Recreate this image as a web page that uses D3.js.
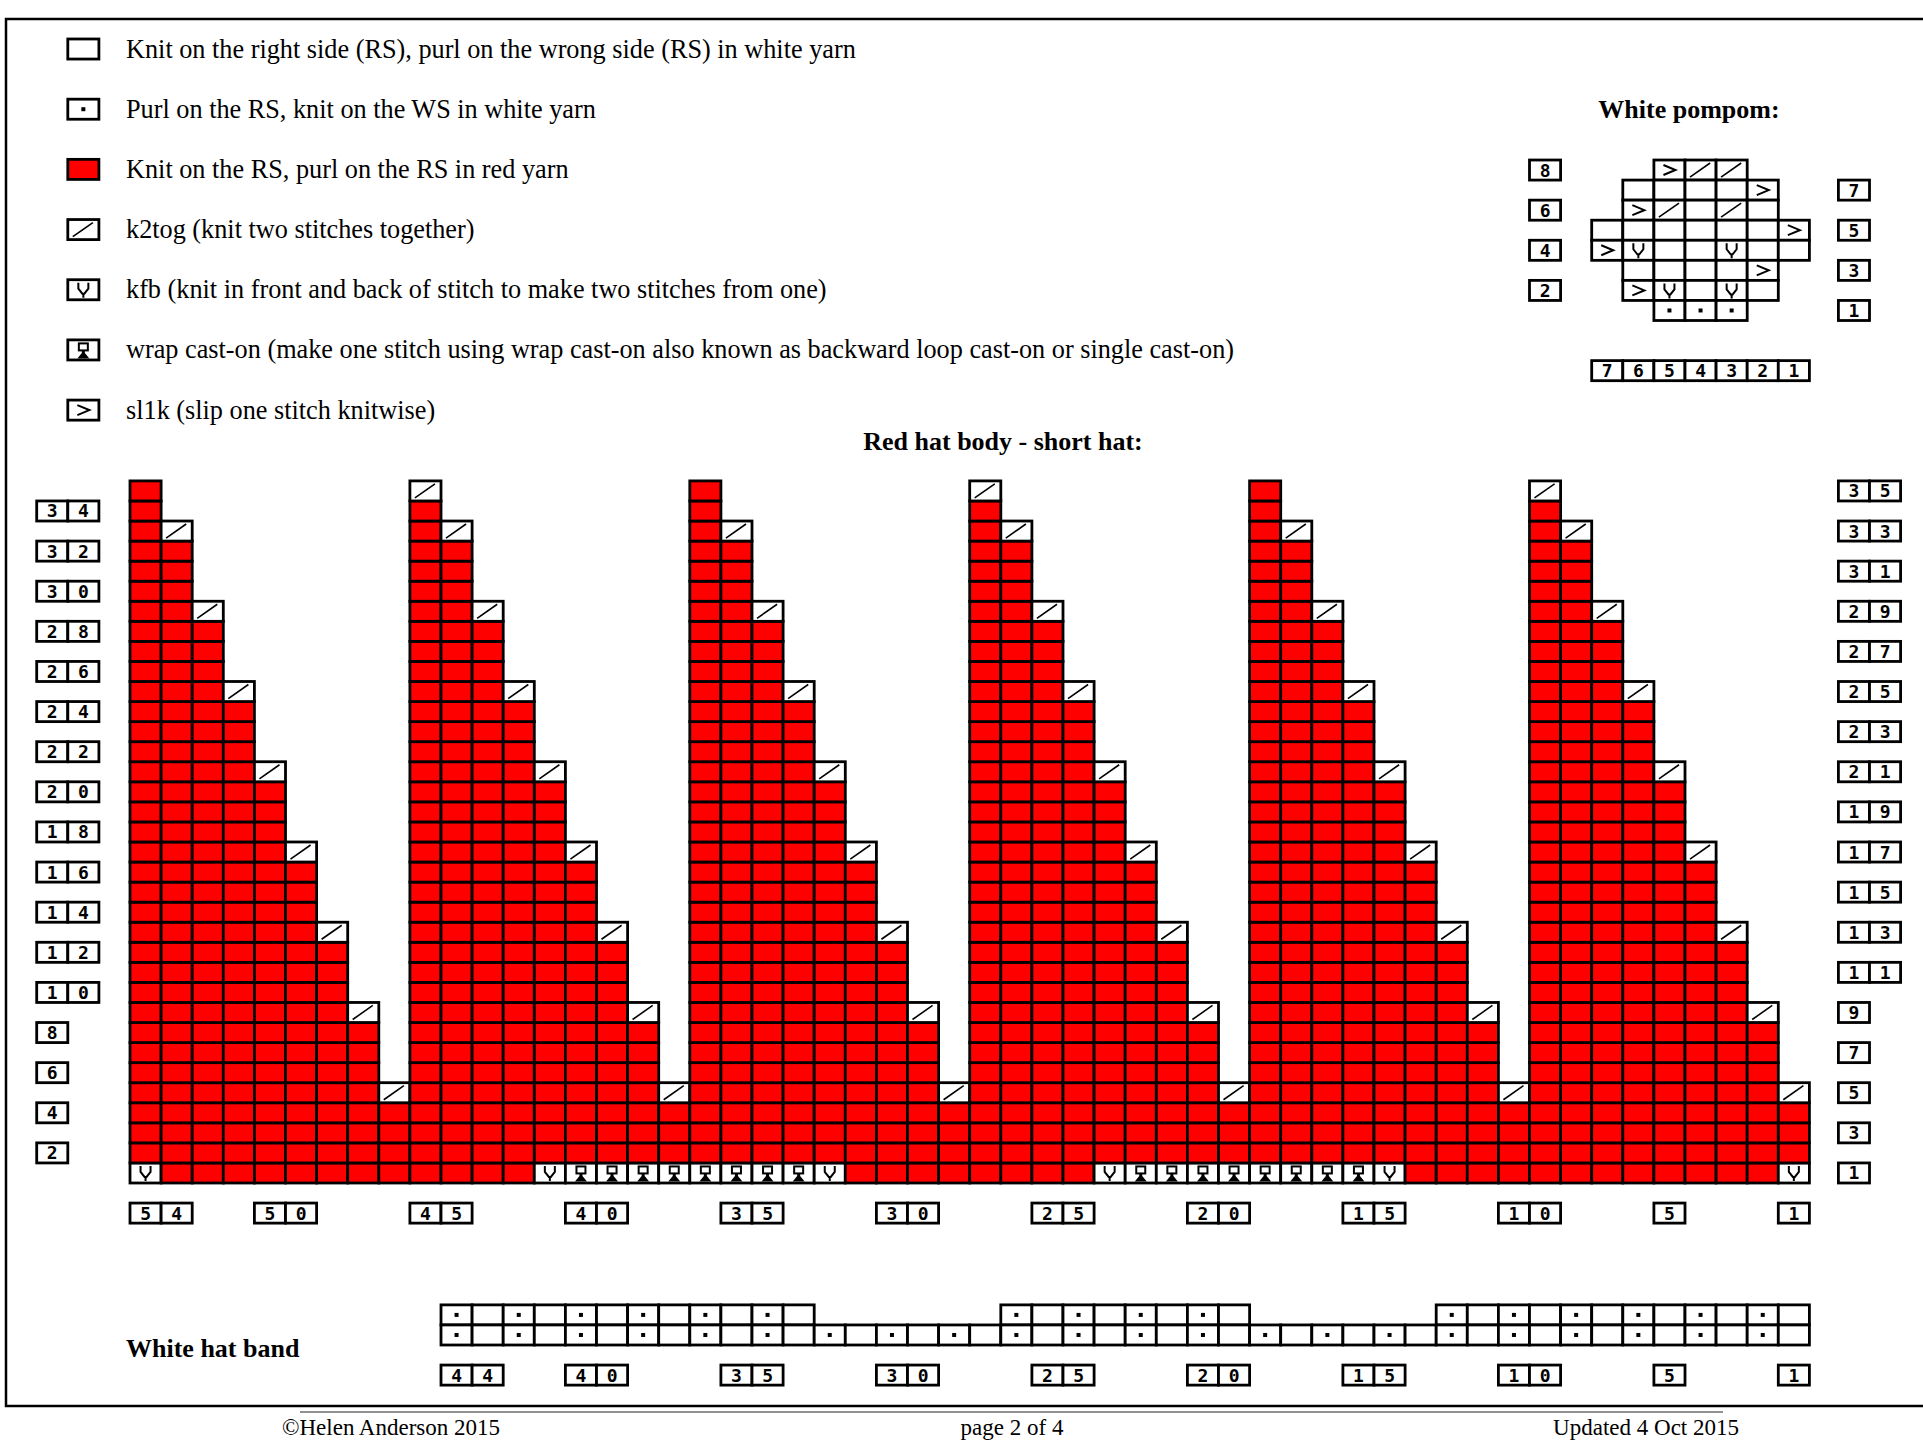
<!DOCTYPE html>
<html>
<head>
<meta charset="utf-8">
<script src="https://cdn.jsdelivr.net/npm/d3@7"></script>
<style>
  body { margin: 0; background: #fff; }
  svg { display: block; }
  text { font-family: "Liberation Serif", "Times New Roman", serif; fill: #000; }
  .num { font-family: "DejaVu Sans Mono", monospace; font-size: 18px; font-weight: bold; }
</style>
</head>
<body>
<svg id="chart" width="1923" height="1455"></svg>
<script>
'use strict';

// stitch codes: K knit white, P purl white, R red, / k2tog, V kfb, W wrap cast-on, > sl1k, ' ' no stitch
const legendCodes = ['K', 'P', 'R', '/', 'V', 'W', '>'];
const legendTexts = [
  'Knit on the right side (RS), purl on the wrong side (RS) in white yarn',
  'Purl on the RS, knit on the WS in white yarn',
  'Knit on the RS, purl on the RS in red yarn',
  'k2tog (knit two stitches together)',
  'kfb (knit in front and back of stitch to make two stitches from one)',
  'wrap cast-on (make one stitch using wrap cast-on also known as backward loop cast-on or single cast-on)',
  'sl1k (slip one stitch knitwise)',
];

// red hat body, columns listed left to right (stitch 54 ... stitch 1)
const bodyTopRow = [
  35, 33, 29, 25, 21, 17, 13, 9, 5,
  35, 33, 29, 25, 21, 17, 13, 9, 5,
  35, 33, 29, 25, 21, 17, 13, 9, 5,
  35, 33, 29, 25, 21, 17, 13, 9, 5,
  35, 33, 29, 25, 21, 17, 13, 9, 5,
  35, 33, 29, 25, 21, 17, 13, 9, 5,
];
const bodyTopCode = 'R////////' + '/////////' + 'R////////' + '/////////' + 'R////////' + '/////////';
const bodyRow1 = 'VRRRRRRRRRRRRVWWWWWWWWVRRRRRRRRVWWWWWWWWVRRRRRRRRRRRRV';
const bodyRowsLeft = [34, 32, 30, 28, 26, 24, 22, 20, 18, 16, 14, 12, 10, 8, 6, 4, 2];
const bodyRowsRight = [35, 33, 31, 29, 27, 25, 23, 21, 19, 17, 15, 13, 11, 9, 7, 5, 3, 1];
const bodyStitchLabels = [54, 50, 45, 40, 35, 30, 25, 20, 15, 10, 5, 1];

// white pompom, rows 8 down to 1, stitches 7 ... 1
const pompomRows = [8, 7, 6, 5, 4, 3, 2, 1];
const pompomCodes = [
  '  >//  ',
  ' KKKK> ',
  ' >/K/K ',
  'KKKKKK>',
  '>VKKVKK',
  ' KKKK> ',
  ' >VKVK ',
  '  PPP  ',
];
const pompomRowsLeft = [8, 6, 4, 2];
const pompomRowsRight = [7, 5, 3, 1];
const pompomStitchLabels = [7, 6, 5, 4, 3, 2, 1];

// white hat band, rows 2 and 1, stitches 44 ... 1
const bandRows = [2, 1];
const bandCodes = [
  'PKPKPKPKPKPK      PKPKPKPK      PKPKPKPKPKPK',
  'PKPKPKPKPKPKPKPKPKPKPKPKPKPKPKPKPKPKPKPKPKPK',
];
const bandStitchLabels = [44, 40, 35, 30, 25, 20, 15, 10, 5, 1];

const svg = d3.select('#chart');
const rh = 20.06;
// column index counted from the left edge of the body chart (stitch 54 = column 0)
const x = d3.scaleLinear().domain([0, 54]).range([130, 1809.4]);
const cw = x(1) - x(0);
const yBody = d3.scaleLinear().domain([0, 35]).range([1183, 1183 - 35 * rh]);
const yPom = d3.scaleLinear().domain([0, 8]).range([320.5, 320.5 - 8 * rh]);
const yBand = d3.scaleLinear().domain([0, 2]).range([1345, 1345 - 2 * rh]);
const xRight = x(54) + 29;

function drawCell(g, code, x0, y0) {
  if (code === ' ') return;
  g.append('rect')
    .attr('x', x0).attr('y', y0).attr('width', cw).attr('height', rh)
    .style('fill', code === 'R' ? '#ff0000' : '#fff')
    .style('stroke', '#000').style('stroke-width', 2.8);
  const cx = x0 + cw / 2;
  if (code === 'P') {
    g.append('rect').attr('x', cx - 2).attr('y', y0 + rh / 2 - 2)
      .attr('width', 4).attr('height', 4).style('fill', '#000');
  } else if (code === '/') {
    g.append('line')
      .attr('x1', x0 + 5).attr('y1', y0 + rh - 3)
      .attr('x2', x0 + cw - 6).attr('y2', y0 + 3)
      .style('stroke', '#000').style('stroke-width', 1.6);
  } else if (code === 'V') {
    g.append('path')
      .attr('d', `M${cx - 5},${y0 + 3}V${y0 + 9}L${cx - 1},${y0 + 14}H${cx + 1}L${cx + 5},${y0 + 9}V${y0 + 3}M${cx},${y0 + 14}V${y0 + rh - 2}`)
      .style('fill', 'none').style('stroke', '#000').style('stroke-width', 2);
  } else if (code === 'W') {
    g.append('rect').attr('x', cx - 4.5).attr('y', y0 + 3.5).attr('width', 9).attr('height', 7)
      .style('fill', 'none').style('stroke', '#000').style('stroke-width', 2);
    g.append('path')
      .attr('d', `M${cx - 1.5},${y0 + 10}H${cx + 1.5}V${y0 + 13}L${cx + 6},${y0 + rh - 1.5}H${cx - 6}L${cx - 1.5},${y0 + 13}Z`)
      .style('fill', '#000');
  } else if (code === '>') {
    g.append('path')
      .attr('d', `M${cx - 6},${y0 + 5}L${cx + 6},${y0 + 10}L${cx - 6},${y0 + 15}`)
      .style('fill', 'none').style('stroke', '#000').style('stroke-width', 2);
  }
}

// number drawn one digit per box
function numBox(g, num, x0, y0) {
  String(num).split('').forEach((dgt, i) => {
    g.append('rect')
      .attr('x', x0 + i * cw).attr('y', y0).attr('width', cw).attr('height', rh)
      .style('fill', '#fff').style('stroke', '#000').style('stroke-width', 2.8);
    g.append('text').attr('class', 'num')
      .attr('x', x0 + i * cw + cw / 2).attr('y', y0 + rh / 2 + 6.5)
      .attr('text-anchor', 'middle').text(dgt);
  });
}

// page frame
svg.append('path')
  .attr('d', 'M1923,19H6V1406H1923')
  .style('fill', 'none').style('stroke', '#000').style('stroke-width', 2.5);

// legend
const legend = svg.append('g');
legendCodes.forEach((code, i) => {
  const top = 39 + i * 3 * rh;
  drawCell(legend, code, x(-2), top);
  legend.append('text').attr('x', 126).attr('y', top + 18.5)
    .style('font-size', '26.25px').text(legendTexts[i]);
});

// body chart
const body = svg.append('g');
body.append('text').attr('x', 1003).attr('y', 450).attr('text-anchor', 'middle')
  .style('font-size', '26px').style('font-weight', 'bold').text('Red hat body - short hat:');
bodyTopRow.forEach((top, c) => {
  for (let r = 1; r <= top; r++) {
    let code = 'R';
    if (r === 1) code = bodyRow1[c];
    else if (r === top) code = bodyTopCode[c];
    drawCell(body, code, x(c), yBody(r));
  }
});
bodyRowsLeft.forEach((r) => numBox(body, r, x(-3), yBody(r)));
bodyRowsRight.forEach((r) => numBox(body, r, xRight, yBody(r)));
bodyStitchLabels.forEach((s) => numBox(body, s, x(54 - s), yBody(-1)));

// pompom chart
const pom = svg.append('g');
pom.append('text').attr('x', 1689).attr('y', 118).attr('text-anchor', 'middle')
  .style('font-size', '26px').style('font-weight', 'bold').text('White pompom:');
pompomRows.forEach((r, i) => {
  pompomCodes[i].split('').forEach((code, p) => drawCell(pom, code, x(47 + p), yPom(r)));
});
pompomRowsLeft.forEach((r) => numBox(pom, r, x(45), yPom(r)));
pompomRowsRight.forEach((r) => numBox(pom, r, xRight, yPom(r)));
pompomStitchLabels.forEach((s) => numBox(pom, s, x(54 - s), yPom(-2)));

// hat band
const band = svg.append('g');
band.append('text').attr('x', 126).attr('y', 1357)
  .style('font-size', '26px').style('font-weight', 'bold').text('White hat band');
bandRows.forEach((r, i) => {
  bandCodes[i].split('').forEach((code, k) => drawCell(band, code, x(10 + k), yBand(r)));
});
bandStitchLabels.forEach((s) => numBox(band, s, x(54 - s), yBand(-1)));

// footer
svg.append('line').attr('x1', 300).attr('x2', 1723).attr('y1', 1412).attr('y2', 1412)
  .style('stroke', '#222').style('stroke-width', 1);
svg.append('text').attr('x', 282).attr('y', 1435).style('font-size', '23px').text('\u00a9Helen Anderson 2015');
svg.append('text').attr('x', 1012).attr('y', 1435).attr('text-anchor', 'middle').style('font-size', '23px').text('page 2 of 4');
svg.append('text').attr('x', 1739).attr('y', 1435).attr('text-anchor', 'end').style('font-size', '23px').text('Updated 4 Oct 2015');
</script>
</body>
</html>
